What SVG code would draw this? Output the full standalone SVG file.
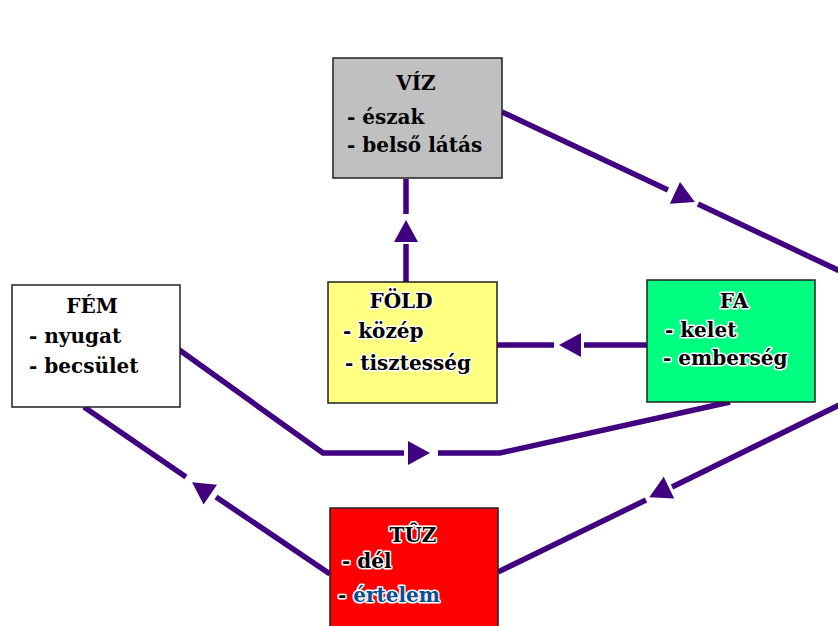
<svg xmlns="http://www.w3.org/2000/svg" xmlns:xlink="http://www.w3.org/1999/xlink" width="838" height="626" viewBox="0 0 838 626">
<style>
.box{stroke:#202020;stroke-width:1.5}
.t{font-family:"DejaVu Serif","Liberation Serif",serif;font-weight:bold;font-size:20px;fill:#000}
.h{stroke:#fff;stroke-width:3px;paint-order:stroke;stroke-linejoin:round}
.c{text-anchor:middle}
.ln{fill:none;stroke:#400080;stroke-width:5.5;stroke-linejoin:miter}
.ah{fill:#400080}
</style>
<defs>
<path id="ah" d="M12,0 L-10,-12 L-10,12 Z"/>
</defs>
<rect width="838" height="626" fill="#fff"/>
<g id="connectors">
<polyline class="ln" points="502,112 668,190"/>
<polyline class="ln" points="698,204 880,290"/>
<use href="#ah" class="ah" transform="translate(684,197) rotate(25)"/>
<polyline class="ln" points="880,385 672,487"/>
<polyline class="ln" points="646,500 498,572"/>
<use href="#ah" class="ah" transform="translate(660,492) rotate(154)"/>
<polyline class="ln" points="406,282 406,244"/>
<polyline class="ln" points="406,214 406,179"/>
<use href="#ah" class="ah" transform="translate(406,232) rotate(-90)"/>
<polyline class="ln" points="647,345 584,345"/>
<polyline class="ln" points="554,345 497,345"/>
<use href="#ah" class="ah" transform="translate(571,345) rotate(180)"/>
<polyline class="ln" points="178,349 323,453 404,453"/>
<polyline class="ln" points="438,453 500,453 730,402"/>
<use href="#ah" class="ah" transform="translate(418,453)"/>
<polyline class="ln" points="330,574 216,497"/>
<polyline class="ln" points="186,477 84,407"/>
<use href="#ah" class="ah" transform="translate(202,489) rotate(214)"/>
</g>
<g id="viz">
<rect class="box" x="333" y="58" width="169" height="120" fill="#c0c0c0"/>
<text class="t c" x="416" y="90">VÍZ</text>
<text class="t" x="347" y="124">- észak</text>
<text class="t" x="347" y="152">- belső látás</text>
</g>
<g id="fem">
<rect class="box" x="12" y="285" width="168" height="122" fill="#fff"/>
<text class="t c" x="92" y="313">FÉM</text>
<text class="t" x="29" y="343">- nyugat</text>
<text class="t" x="29" y="373">- becsület</text>
</g>
<g id="fold">
<rect class="box" x="328" y="282" width="169" height="121" fill="#ffff80"/>
<text class="t c h" x="401" y="308">FÖLD</text>
<text class="t h" x="343" y="338">- közép</text>
<text class="t h" x="345" y="370">- tisztesség</text>
</g>
<g id="fa">
<rect class="box" x="647" y="280" width="168" height="122" fill="#00ff80"/>
<text class="t c h" x="734" y="308">FA</text>
<text class="t h" x="665" y="337">- kelet</text>
<text class="t h" x="663" y="365">- emberség</text>
</g>
<g id="tuz">
<rect class="box" x="330" y="508" width="168" height="125" fill="#ff0000"/>
<text class="t c h" x="413" y="542">TÛZ</text>
<text class="t h" x="342" y="568">- dél</text>
<text class="t h" x="338" y="602"><tspan>- </tspan><tspan fill="#0a4e96">értelem</tspan></text>
</g>
</svg>
